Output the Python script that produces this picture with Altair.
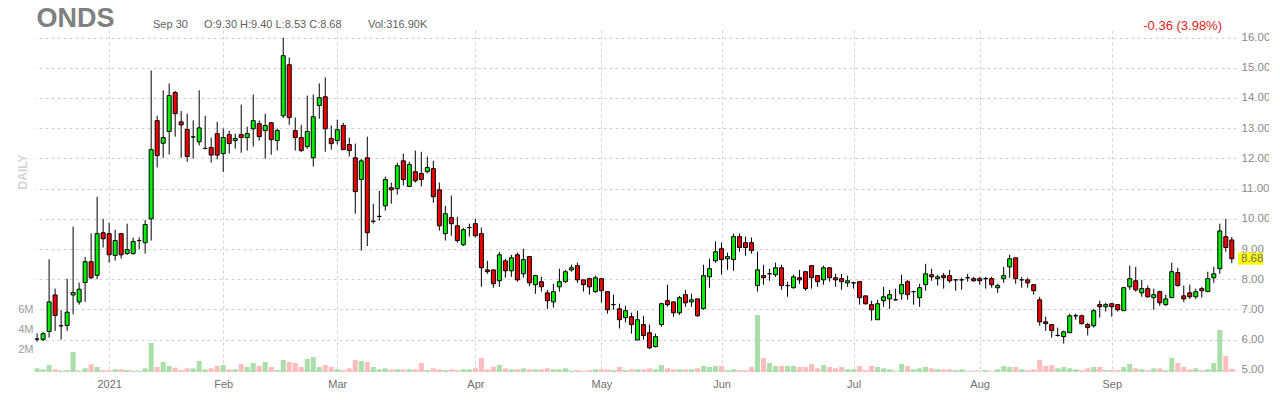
import altair as alt
import pandas as pd

# ---------------- data ----------------
opens = [6.02, 6.01, 6.27, 7.48, 6.46, 6.47, 7.48, 7.25, 7.89, 8.58,
         8.13, 9.54, 9.51, 8.79, 9.51, 8.85, 8.85, 9.28, 9.21, 10.00,
         13.25, 12.50, 12.89, 14.18, 13.21, 12.96, 12.71, 12.55, 12.33, 12.36,
         12.82, 12.16, 12.79, 12.59, 12.79, 12.69, 12.98, 13.15, 12.92, 13.18,
         12.59, 13.41, 15.10, 12.92, 12.69, 12.39, 12.02, 13.75, 14.04, 12.66,
         12.59, 13.09, 12.46, 12.02, 11.30, 12.02, 9.92, 10.08, 10.43, 11.03,
         11.00, 11.92, 11.07, 11.56, 11.50, 11.56, 11.66, 10.96, 9.51, 10.04,
         9.77, 9.14, 9.71, 9.84, 9.51, 8.31, 8.31, 7.95, 8.61, 8.28,
         8.81, 8.18, 8.75, 7.82, 7.92, 7.55, 7.25, 7.75, 7.92, 8.31,
         8.45, 7.98, 8.02, 7.59, 8.02, 7.59, 7.16, 7.02, 6.73, 6.76,
         5.99, 6.50, 6.23, 5.77, 6.50, 7.29, 7.25, 6.89, 7.49, 7.25,
         7.35, 7.03, 8.08, 8.61, 9.01, 8.68, 8.65, 9.41, 9.21, 9.21,
         7.79, 8.12, 8.18, 8.15, 8.38, 7.79, 7.72, 8.05, 8.25, 8.45,
         8.12, 7.98, 8.38, 8.05, 8.02, 7.88, 7.88, 7.92, 7.45, 7.16,
         6.66, 7.29, 7.35, 7.32, 7.52, 7.92, 7.59, 7.39, 7.82, 8.15,
         8.02, 8.12, 8.12, 7.98, 7.98, 8.05, 8.02, 8.02, 8.02, 8.02,
         7.72, 8.02, 8.41, 8.71, 7.98, 7.98, 7.82, 7.32, 6.59, 6.50,
         6.14, 6.10, 6.23, 6.79, 6.79, 6.50, 6.46, 7.16, 7.09, 7.19,
         7.16, 6.96, 7.75, 7.95, 7.55, 7.69, 7.39, 7.59, 7.16, 7.39,
         8.22, 7.45, 7.55, 7.42, 7.69, 7.59, 8.05, 8.35, 9.41, 9.30]
highs = [6.21, 6.25, 8.66, 7.69, 6.98, 8.02, 9.74, 7.89, 8.74, 9.52,
         10.73, 10.00, 9.87, 9.64, 9.51, 9.84, 9.38, 9.39, 9.96, 14.91,
         13.41, 14.25, 14.48, 14.23, 13.57, 13.48, 13.26, 14.25, 13.41, 12.69,
         13.21, 12.99, 12.91, 12.82, 13.78, 13.05, 14.11, 13.26, 13.48, 13.21,
         12.99, 16.00, 15.34, 13.35, 13.11, 14.08, 14.11, 14.48, 14.68, 13.09,
         13.28, 13.18, 12.69, 12.49, 11.99, 12.72, 10.50, 10.92, 11.40, 11.20,
         11.86, 12.16, 11.89, 12.26, 12.22, 12.06, 11.92, 11.20, 10.43, 10.77,
         10.07, 9.70, 9.84, 10.00, 9.71, 8.61, 8.31, 8.91, 8.68, 8.81,
         8.88, 9.01, 8.75, 8.15, 8.08, 7.65, 7.85, 8.35, 8.31, 8.48,
         8.55, 7.98, 8.05, 8.12, 8.02, 7.59, 7.49, 7.19, 7.12, 6.89,
         6.96, 6.79, 6.50, 6.20, 7.22, 7.82, 7.25, 7.45, 7.65, 7.52,
         7.35, 8.48, 8.68, 9.25, 9.21, 8.88, 9.51, 9.51, 9.41, 9.38,
         8.91, 8.48, 8.35, 8.55, 8.48, 7.92, 8.15, 8.31, 8.25, 8.45,
         8.12, 8.45, 8.38, 8.18, 8.18, 8.12, 7.92, 7.92, 7.45, 7.29,
         7.32, 7.75, 7.65, 7.69, 8.15, 7.98, 7.62, 7.85, 8.51, 8.35,
         8.15, 8.21, 8.31, 7.98, 8.05, 8.18, 8.08, 8.08, 8.08, 8.08,
         7.85, 8.41, 8.81, 8.71, 8.08, 8.05, 7.82, 7.42, 6.76, 6.50,
         6.40, 6.30, 6.86, 6.86, 6.83, 6.56, 7.02, 7.29, 7.22, 7.19,
         7.16, 7.75, 8.45, 8.41, 7.98, 7.79, 7.69, 7.62, 7.49, 8.55,
         8.38, 7.79, 7.82, 7.69, 7.75, 8.25, 8.41, 9.84, 10.00, 9.40]
lows = [5.93, 5.95, 6.07, 6.29, 6.00, 6.29, 6.84, 7.16, 7.25, 8.00,
        8.00, 9.05, 8.55, 8.62, 8.68, 8.81, 8.81, 8.99, 8.85, 9.28,
        11.70, 12.02, 12.13, 12.72, 12.02, 11.89, 11.99, 12.43, 12.30, 11.86,
        11.97, 11.55, 12.16, 12.32, 12.19, 12.26, 12.39, 12.59, 11.99, 12.12,
        12.26, 13.33, 13.11, 12.26, 12.21, 12.32, 11.73, 13.31, 12.22, 12.29,
        12.46, 12.29, 12.06, 10.17, 8.95, 9.10, 9.84, 9.94, 10.27, 10.50,
        10.80, 11.10, 11.07, 11.20, 11.07, 11.50, 10.53, 9.61, 9.28, 9.44,
        9.21, 9.10, 9.41, 9.38, 7.75, 8.18, 7.72, 7.75, 8.05, 8.08,
        7.92, 8.05, 7.77, 7.52, 7.59, 7.02, 7.06, 7.59, 7.88, 8.25,
        7.88, 7.59, 7.49, 7.55, 7.22, 6.86, 6.99, 6.37, 6.57, 6.20,
        5.99, 6.00, 5.70, 5.74, 6.43, 7.09, 6.76, 6.82, 7.09, 7.09,
        6.76, 6.99, 7.72, 8.55, 8.15, 8.31, 8.28, 8.91, 8.78, 8.85,
        7.59, 7.82, 7.95, 8.08, 7.65, 7.42, 7.69, 7.85, 7.62, 7.69,
        7.75, 7.82, 7.92, 7.75, 7.65, 7.75, 7.69, 7.16, 7.16, 6.63,
        6.66, 7.09, 7.02, 7.29, 7.32, 7.32, 7.16, 7.09, 7.62, 7.95,
        7.79, 7.69, 7.88, 7.62, 7.65, 7.92, 7.92, 7.82, 7.69, 7.72,
        7.55, 7.88, 8.05, 7.85, 7.72, 7.72, 7.49, 6.46, 6.29, 6.07,
        6.10, 5.87, 6.23, 6.66, 6.50, 6.14, 6.40, 6.73, 6.93, 6.76,
        6.93, 6.96, 7.65, 7.59, 7.42, 7.39, 6.99, 7.12, 7.12, 7.39,
        7.75, 7.25, 7.35, 7.35, 7.39, 7.59, 7.88, 8.18, 8.91, 8.53]
closes = [6.02, 6.20, 7.25, 6.80, 6.46, 6.91, 7.56, 7.67, 8.58, 8.05,
          9.51, 9.34, 8.81, 9.28, 8.81, 8.98, 9.25, 9.28, 9.81, 12.29,
          12.09, 12.69, 14.08, 13.48, 13.11, 12.06, 12.71, 13.01, 12.33, 12.11,
          12.11, 12.69, 12.49, 12.66, 12.69, 12.82, 13.25, 12.72, 13.09, 12.62,
          12.92, 15.40, 13.35, 12.69, 12.26, 12.89, 13.38, 14.01, 12.98, 12.49,
          12.95, 12.29, 12.26, 10.90, 11.92, 9.54, 9.92, 10.08, 11.30, 10.96,
          11.76, 11.30, 11.80, 11.26, 11.30, 11.70, 10.73, 9.77, 10.17, 9.84,
          9.28, 9.64, 9.71, 9.44, 8.38, 8.25, 7.85, 8.81, 8.28, 8.71,
          7.98, 8.65, 7.88, 8.12, 7.75, 7.29, 7.59, 7.92, 8.25, 8.38,
          7.98, 7.82, 7.75, 8.05, 7.62, 6.99, 7.16, 6.66, 6.96, 6.50,
          6.66, 6.14, 5.73, 6.10, 7.19, 7.16, 6.89, 7.39, 7.22, 7.32,
          6.79, 8.12, 8.35, 8.91, 8.65, 8.75, 9.41, 9.05, 9.05, 8.95,
          8.31, 8.05, 8.18, 8.38, 7.79, 7.79, 8.08, 7.98, 7.69, 8.05,
          7.92, 8.38, 8.05, 7.98, 7.92, 7.95, 7.88, 7.39, 7.19, 6.99,
          7.19, 7.42, 7.49, 7.32, 7.82, 7.49, 7.59, 7.72, 8.18, 8.08,
          8.08, 8.05, 7.95, 7.98, 7.98, 8.05, 7.95, 7.95, 8.02, 7.82,
          7.79, 8.12, 8.68, 8.02, 7.98, 7.88, 7.62, 6.59, 6.53, 6.30,
          6.14, 6.26, 6.79, 6.79, 6.53, 6.40, 6.96, 7.09, 7.16, 7.09,
          6.99, 7.72, 8.02, 7.65, 7.69, 7.42, 7.49, 7.22, 7.35, 8.25,
          7.79, 7.35, 7.42, 7.59, 7.62, 8.02, 8.18, 9.60, 9.05, 8.68]
volumes_m = [0.37, 0.27, 0.70, 0.27, 0.10, 0.17, 2.00, 0.10, 0.37, 0.77,
             0.50, 0.17, 0.17, 0.27, 0.27, 0.17, 0.10, 0.10, 0.37, 2.90,
             0.50, 1.00, 0.60, 0.43, 0.17, 0.37, 0.37, 1.10, 0.27, 0.37,
             0.60, 0.70, 0.27, 0.27, 0.80, 0.50, 0.90, 0.60, 1.00, 0.50,
             0.17, 1.20, 1.00, 0.90, 0.50, 1.30, 1.50, 0.50, 0.70, 0.50,
             0.27, 0.17, 0.37, 1.20, 1.10, 1.00, 0.50, 0.27, 0.37, 0.27,
             0.27, 0.27, 0.27, 0.27, 0.90, 0.17, 0.37, 0.27, 0.17, 0.27,
             0.17, 0.27, 0.27, 0.37, 1.40, 0.27, 0.50, 0.70, 0.37, 0.27,
             0.27, 0.37, 0.27, 0.27, 0.27, 0.37, 0.27, 0.27, 0.37, 0.10,
             0.17, 0.10, 0.17, 0.27, 0.27, 0.27, 0.17, 0.50, 0.17, 0.27,
             0.27, 0.27, 0.37, 0.27, 0.70, 0.37, 0.27, 0.27, 0.27, 0.27,
             0.37, 0.60, 0.50, 0.60, 0.60, 0.17, 0.27, 0.17, 0.17, 0.50,
             5.70, 1.40, 0.90, 0.60, 0.60, 0.60, 0.60, 0.50, 0.50, 0.80,
             0.37, 0.70, 0.50, 0.37, 0.50, 0.27, 0.27, 0.60, 0.17, 0.60,
             0.50, 0.37, 0.27, 0.07, 0.80, 0.60, 0.27, 0.37, 0.50, 0.37,
             0.27, 0.27, 0.27, 0.17, 0.27, 0.07, 0.07, 0.07, 0.17, 0.07,
             0.27, 0.60, 0.50, 0.50, 0.27, 0.17, 0.27, 1.20, 0.60, 0.70,
             0.37, 0.50, 0.37, 0.27, 0.17, 0.37, 0.50, 0.50, 0.17, 0.17,
             0.17, 0.50, 0.80, 0.37, 0.27, 0.17, 0.37, 0.37, 0.17, 1.40,
             0.90, 0.50, 0.27, 0.37, 0.17, 0.27, 0.90, 4.20, 1.60, 0.32]

month_idx = [12, 31, 50, 73, 94, 114, 136, 157, 179]
month_names = ["2021", "Feb", "Mar", "Apr", "May", "Jun", "Jul", "Aug", "Sep"]
price_ticks = [5, 6, 7, 8, 9, 10, 11, 12, 13, 14, 15, 16]
vol_ticks = [2, 4, 6]

ticker = "ONDS"
last_date = "Sep 30"
ohlc_text = "O:9.30  H:9.40  L:8.53  C:8.68"
vol_text = "Vol:316.90K"
change_text = "-0.36 (3.98%)"
side_label = "DAILY"

df = pd.DataFrame({
    "i": list(range(len(opens))),
    "open": opens, "high": highs, "low": lows, "close": closes,
    "vol": volumes_m,
})

# ---------------- styling ----------------
W, H = 1201, 342
FONT = "Liberation Sans"
GRID = "#d2d2d2"
UP, DOWN = "#00ee00", "#ee0000"
VUP, VDOWN = "#aadfaa", "#ffbdbd"

x_scale = alt.Scale(domain=[-0.35, 199.7], nice=False, zero=False, padding=0)
label_expr = f"{month_names}[indexof({month_idx}, datum.value)]"
x_enc = alt.X(
    "i:Q", scale=x_scale,
    axis=alt.Axis(values=month_idx, labelExpr=label_expr, grid=True,
                  gridColor=GRID, gridDash=[3, 3], gridWidth=1,
                  domain=False, ticks=False, title=None,
                  labelColor="#707070", labelFontSize=11, labelFont=FONT,
                  labelPadding=6, labelFlush=False),
)

price_scale = alt.Scale(domain=[4.93, 16.25], nice=False, zero=False, padding=0)
price_axis = alt.Axis(orient="right", values=price_ticks, format=".2f",
                      grid=True, gridColor=GRID, gridDash=[3, 3], gridWidth=1,
                      domain=False, ticks=False, title=None,
                      labelColor="#8a8a8a", labelFontSize=11.5, labelFont=FONT,
                      labelPadding=5)

is_up = "datum.close >= datum.open"

volume = alt.Chart(df).mark_bar(width=5).encode(
    x=x_enc,
    y=alt.Y("vol:Q", scale=alt.Scale(domain=[0, 34.2], nice=False, zero=False, padding=0),
            axis=alt.Axis(orient="left", values=vol_ticks,
                          labelExpr="datum.value + 'M'", grid=False,
                          domain=False, ticks=False, title=None,
                          labelColor="#9a9a9a", labelFontSize=11,
                          labelFont=FONT, labelPadding=2, labelOffset=-3)),
    y2=alt.value(H),
    color=alt.condition(is_up, alt.value(VUP), alt.value(VDOWN)),
)

wicks = alt.Chart(df).mark_rule(color="black", strokeWidth=1).encode(
    x=x_enc,
    y=alt.Y("low:Q", scale=price_scale, axis=price_axis),
    y2="high:Q",
)

bodies = alt.Chart(df).mark_bar(width=4, stroke="black", strokeWidth=1).encode(
    x=x_enc,
    y=alt.Y("open:Q", scale=price_scale, axis=None),
    y2="close:Q",
    color=alt.condition(is_up, alt.value(UP), alt.value(DOWN)),
)

last = pd.DataFrame({"close": [closes[-1]]})
tag_rect = alt.Chart(last).transform_calculate(
    top="datum.close + 0.2", bot="datum.close - 0.2"
).mark_rect(color="#ffff00").encode(
    x=alt.value(W + 2), x2=alt.value(W + 27),
    y=alt.Y("top:Q", scale=price_scale, axis=None), y2="bot:Q",
)
tag_text = alt.Chart(last).mark_text(
    align="left", baseline="middle", fontSize=11.5, font=FONT, color="#707070"
).encode(
    x=alt.value(W + 5),
    y=alt.Y("close:Q", scale=price_scale, axis=None),
    text=alt.Text("close:Q", format=".2f"),
)


def label(txt, x, y, **kw):
    return alt.Chart(pd.DataFrame({"t": [txt]})).mark_text(font=FONT, **kw).encode(
        x=alt.value(x), y=alt.value(y), text="t:N")


header = [
    label(ticker, 1.5, -3, align="left", baseline="alphabetic", fontSize=27,
          fontWeight="bold", color="#808080"),
    label(last_date, 118, -2, align="left", baseline="alphabetic", fontSize=11,
          color="#606060"),
    label(ohlc_text, 169, -2, align="left", baseline="alphabetic", fontSize=11,
          color="#606060"),
    label(vol_text, 333, -2, align="left", baseline="alphabetic", fontSize=11,
          color="#606060"),
    label(change_text, 1187, 0, align="right", baseline="alphabetic",
          fontSize=13, color="#dd1c1c"),
    label(side_label, -12, 142, align="center", baseline="middle", angle=270,
          fontSize=12, fontWeight="bold", color="#d4d4d4"),
]

chart = alt.layer(volume, wicks, bodies, tag_rect, tag_text, *header).resolve_scale(
    y="independent"
).properties(
    width=W, height=H,
    autosize=alt.AutoSizeParams(type="none"),
    padding={"left": 27, "top": 22, "right": 33, "bottom": 19},
    background="white",
).configure_view(stroke=None)

chart.save("out.html", embed_options={"renderer": "svg", "actions": False})
